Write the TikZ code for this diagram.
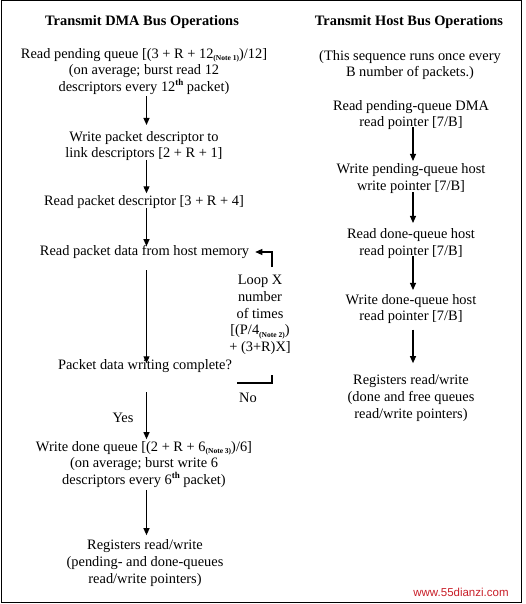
\documentclass[tikz,border=0pt]{standalone}
\usepackage{fontspec}
\setmainfont{Liberation Serif}
\newfontfamily\wmfont{Liberation Sans}
\usetikzlibrary{arrows.meta}
\newcommand{\nt}[1]{\raisebox{-0.35ex}{\fontsize{7.5}{8}\selectfont\bfseries #1}}
\newcommand{\sps}[1]{\raisebox{0.85ex}{\fontsize{9}{9}\selectfont\bfseries #1}}
\begin{document}
\begin{tikzpicture}[x=1pt,y=-1pt,
  txt/.style={align=center,inner sep=0pt,font=\fontsize{14.4}{16.6}\selectfont},
  ttl/.style={inner sep=0pt,font=\fontsize{14.4}{16.6}\selectfont\bfseries},
  arr/.style={line width=1.1pt,-{Triangle[length=7pt,width=6pt]}},
  ln/.style={line width=1.1pt}]
\useasboundingbox (0,0) rectangle (525,604);
\draw[line width=1pt] (1,1) rectangle (521,602);
% left column
\node[ttl] (tl) at (142,22) {Transmit DMA Bus Operations};
\node[txt] (pq) at (144,71.5) {Read pending queue [(3 + R + 12\nt{(Note 1)})/12]\\(on average; burst read 12\\descriptors every 12\sps{th} packet)};
\node[txt] (wpd) at (144,146) {Write packet descriptor to\\link descriptors [2 + R + 1]};
\node[txt] (rpd) at (144,202) {Read packet descriptor [3 + R + 4]};
\node[txt] (rdata) at (144.5,252) {Read packet data from host memory};
\node[txt] (loop) at (260,315) {Loop X\\number\\of times\\{}[(P/4\nt{(Note 2)})\\+ (3+R)X]};
\node[txt] (pdwc) at (145,366) {Packet data writing complete?};
\node[txt] (yes) at (123,418) {Yes};
\node[txt] (no) at (248,398) {No};
\node[txt] (wdq) at (144,464.5) {Write done queue [(2 + R + 6\nt{(Note 3)})/6]\\(on average; burst write 6\\descriptors every 6\sps{th} packet)};
\node[txt] (reg) at (145,563) {Registers read/write\\(pending- and done-queues\\read/write pointers)};
% right column
\node[ttl] (tr) at (409,22) {Transmit Host Bus Operations};
\node[txt] (seq) at (410,65) {(This sequence runs once every\\B number of packets.)};
\node[txt] (rpq) at (411,115) {Read pending-queue DMA\\read pointer [7/B]};
\node[txt] (wpq) at (411,178.5) {Write pending-queue host\\write pointer [7/B]};
\node[txt] (rdq) at (411,243.5) {Read done-queue host\\read pointer [7/B]};
\node[txt] (wdq2) at (411,309) {Write done-queue host\\read pointer [7/B]};
\node[txt] (reg2) at (411,398) {Registers read/write\\(done and free queues\\read/write pointers)};
% left arrows
\coordinate (a1) at (146.5,0);
\draw[arr] ([yshift=-1.5pt]pq.south -| a1) -- ([yshift=6pt]wpd.north -| a1);
\draw[arr] ([yshift=1.5pt]wpd.south -| a1) -- ([yshift=2pt]rpd.north -| a1);
\draw[arr] ([yshift=0.5pt]rpd.south -| a1) -- ([yshift=-1pt]rdata.north -| a1);
\draw[arr] ([yshift=-11.5pt]rdata.south -| a1) -- ([yshift=-4pt]pdwc.north -| a1);
\draw[arr] ([yshift=-19.5pt]pdwc.south -| a1) -- ([yshift=2pt]wdq.north -| a1);
\draw[arr] ([yshift=-2pt]wdq.south -| a1) -- ([yshift=4.5pt]reg.north -| a1);
% loop
\coordinate (lt) at (272,267);
\coordinate (lb) at (272,375);
\coordinate (le) at (237,383);
\draw[arr] (lt) |- ([xshift=6pt]rdata.east);
\draw[ln] (lb) |- (le);
% right arrows
\coordinate (b1) at (413,0);
\draw[arr] ([yshift=3pt]rpq.south -| b1) -- ([yshift=2.5pt]wpq.north -| b1);
\draw[arr] ([yshift=1.5pt]wpq.south -| b1) -- ([yshift=5.5pt]rdq.north -| b1);
\draw[arr] ([yshift=2.5pt]rdq.south -| b1) -- ([yshift=4pt]wdq2.north -| b1);
\draw[arr] ([yshift=-5.5pt]wdq2.south -| b1) -- ([yshift=11.5pt]reg2.north -| b1);
% watermark
\node[inner sep=0pt,font=\wmfont\fontsize{11.5}{12}\selectfont,text={rgb,255:red,200;green,30;blue,40}] (wm) at (461,592) {www.55dianzi.com};
\end{tikzpicture}
\end{document}
